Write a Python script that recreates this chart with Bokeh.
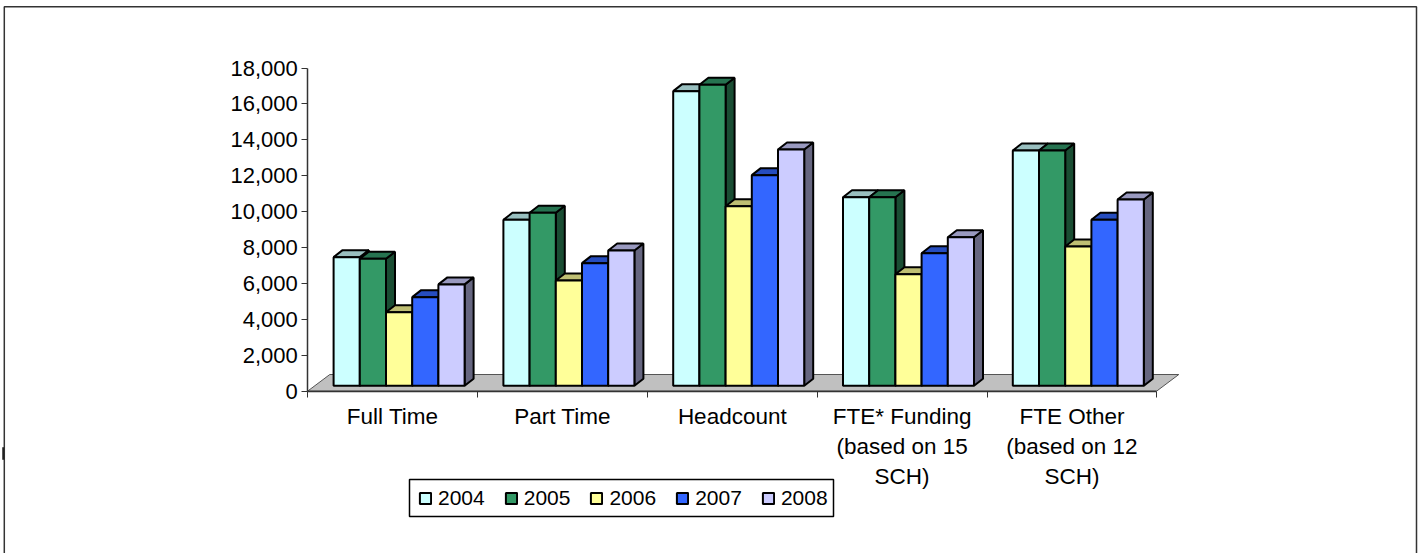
from bokeh.plotting import figure
from bokeh.models import (FixedTicker, Legend, LegendItem, BoxAnnotation, LinearAxis, Range1d)
from bokeh.embed import file_html
from bokeh.resources import INLINE

categories = ["Full Time", "Part Time", "Headcount", "FTE* Funding\n(based on 15\nSCH)", "FTE Other\n(based on 12\nSCH)"]
years = ["2004", "2005", "2006", "2007", "2008"]
v2004 = [7170, 9250, 16420, 10510, 13110]
v2005 = [7080, 9640, 16780, 10510, 13110]
v2006 = [4100, 5870, 10010, 6220, 7760]
v2007 = [4940, 6835, 11740, 7390, 9250]
v2008 = [5650, 7540, 13170, 8280, 10380]
series = [v2004, v2005, v2006, v2007, v2008]
front_colors = ["#CCFFFF", "#339966", "#FFFF99", "#3366FF", "#CCCCFF"]
top_colors = ["#99BFBF", "#267350", "#BFBF73", "#264DBF", "#9999BF"]
side_colors = ["#668080", "#1A4D33", "#80804D", "#1A3380", "#666680"]
y_ticks = list(range(0, 18001, 2000))

W, H = 1421, 553
AX_X0, AX_X1 = 307.3, 1156.3
AX_Y0, AX_Y18 = 390.5, 67.5
kx = (AX_X1 - AX_X0) / 5
ky = (AX_Y0 - AX_Y18) / 18000

p = figure(width=W, height=H, output_backend="svg", toolbar_location=None,
           x_range=Range1d(-AX_X0 / kx, (W - AX_X0) / kx),
           y_range=Range1d(-(H - AX_Y0) / ky, AX_Y0 / ky),
           min_border=0, x_axis_type=None, y_axis_type=None)
p.grid.visible = False
p.outline_line_color = None
p.background_fill_color = "white"

FONT = "Liberation Sans"
yax = LinearAxis(fixed_location=0, bounds=(0, 18000), ticker=FixedTicker(ticks=y_ticks))
yax.major_label_overrides = {t: f"{t:,}" for t in y_ticks}
yax.major_label_text_font = FONT
yax.major_label_text_font_size = "22px"
yax.major_label_text_color = "black"
yax.major_tick_in = 0
yax.major_tick_out = 6
yax.minor_tick_in = 0
yax.minor_tick_out = 0
yax.axis_line_color = "#333333"
yax.axis_line_width = 1.5
yax.major_tick_line_color = "#333333"
yax.major_label_standoff = 4
p.add_layout(yax, "left")

xax = LinearAxis(fixed_location=0, bounds=(0, 5),
                 ticker=FixedTicker(ticks=[0.5, 1.5, 2.5, 3.5, 4.5], minor_ticks=[0, 1, 2, 3, 4, 5]))
xax.major_label_overrides = {i + 0.5: c for i, c in enumerate(categories)}
xax.major_label_text_font = FONT
xax.major_label_text_font_size = "22.5px"
xax.major_label_text_color = "black"
xax.major_tick_in = 0
xax.major_tick_out = 0
xax.minor_tick_in = 0
xax.minor_tick_out = 6
xax.axis_line_color = "#333333"
xax.axis_line_width = 1.5
xax.minor_tick_line_color = "#333333"
xax.major_label_standoff = 7
p.add_layout(xax, "below")

# floor of the 3-D plot
fdx = 22 / kx
fdy = 16.5 / ky
p.patch([0, fdx, 5 + fdx, 5], [0, fdy, fdy, 0], fill_color="#C0C0C0", line_color="#555555", line_width=1)

# bars
BAR_W = 26.2 / kx
OFF = 25.8 / kx
DX = 9 / kx
DY = 7 / ky
BASE = 5.2 / ky
items = []
for s, vals in enumerate(series):
    lefts = [i + OFF + s * BAR_W for i in range(len(vals))]
    rights = [l + BAR_W for l in lefts]
    tops = [BASE + v for v in vals]
    bottoms = [BASE] * len(vals)
    side_x = [[r, r + DX, r + DX, r] for r in rights]
    side_y = [[BASE, BASE + DY, t + DY, t] for t in tops]
    top_x = [[l, l + DX, r + DX, r] for l, r in zip(lefts, rights)]
    top_y = [[t, t + DY, t + DY, t] for t in tops]
    p.patches(side_x, side_y, fill_color=side_colors[s], line_color="black", line_width=2)
    p.patches(top_x, top_y, fill_color=top_colors[s], line_color="black", line_width=2)
    r = p.quad(left=lefts, right=rights, top=tops, bottom=bottoms,
               fill_color=front_colors[s], line_color="black", line_width=2)
    items.append(LegendItem(label=years[s], renderers=[r]))

SC = dict(left_units="screen", right_units="screen", top_units="screen", bottom_units="screen")
# screen units for boxes count up from the bottom of the picture
p.add_layout(BoxAnnotation(left=409, right=833, top=H - 479, bottom=H - 516, fill_color="white", fill_alpha=1,
                           line_color="black", line_alpha=1, line_width=1.5, **SC))
legend = Legend(items=items, orientation="horizontal", location=(418, H - 510),
                label_text_font=FONT, label_text_font_size="21px", label_text_color="black",
                glyph_width=14, glyph_height=14, spacing=19, padding=4, margin=0,
                label_standoff=6, border_line_color=None, background_fill_alpha=0)
p.add_layout(legend, "center")

# chart frame (its bottom edge runs off the picture) and the small mark at its left edge
p.add_layout(BoxAnnotation(left=3.8, right=1416, top=H - 6.3, bottom=-50, fill_alpha=0,
                           line_color="#333333", line_alpha=1, line_width=1.5, level="underlay", **SC))
p.add_layout(BoxAnnotation(left=2, right=3.5, top=H - 447, bottom=H - 459, fill_color="#222222", fill_alpha=1,
                           line_color="#222222", line_alpha=1, line_width=0.5, **SC))

open("out.html", "w").write(file_html(p, INLINE))
